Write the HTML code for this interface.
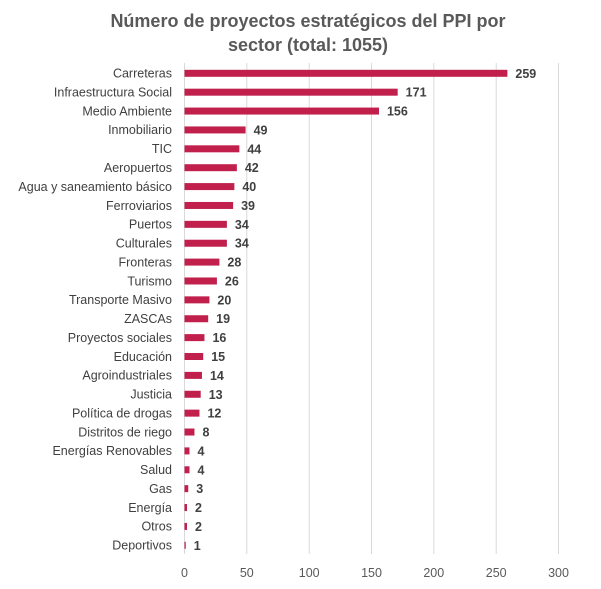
<!DOCTYPE html>
<html><head><meta charset="utf-8"><style>
body{margin:0;background:#fff;}
svg{display:block;font-family:"Liberation Sans",sans-serif;}
</style></head><body>
<svg width="601" height="589" viewBox="0 0 601 589" xmlns="http://www.w3.org/2000/svg">
<rect width="601" height="589" fill="#fff"/>
<text x="308" y="27" text-anchor="middle" font-size="18" font-weight="bold" fill="#595959">Número de proyectos estratégicos del PPI por</text>
<text x="308" y="51" text-anchor="middle" font-size="18" font-weight="bold" fill="#595959">sector (total: 1055)</text>
<g stroke="#d9d9d9" stroke-width="1">
<line x1="184.5" y1="63" x2="184.5" y2="554"/>
<line x1="246.8" y1="63" x2="246.8" y2="554"/>
<line x1="309.2" y1="63" x2="309.2" y2="554"/>
<line x1="371.5" y1="63" x2="371.5" y2="554"/>
<line x1="433.8" y1="63" x2="433.8" y2="554"/>
<line x1="496.2" y1="63" x2="496.2" y2="554"/>
<line x1="558.5" y1="63" x2="558.5" y2="554"/>
</g>
<g font-size="12.5" fill="#595959" text-anchor="middle">
<text x="184.5" y="577">0</text><text x="246.8" y="577">50</text><text x="309.2" y="577">100</text><text x="371.5" y="577">150</text><text x="433.8" y="577">200</text><text x="496.2" y="577">250</text><text x="558.5" y="577">300</text>
</g>
<g id="bars"></g>
</svg>
<script>
var d=[["Carreteras",259],["Infraestructura Social",171],["Medio Ambiente",156],["Inmobiliario",49],["TIC",44],["Aeropuertos",42],["Agua y saneamiento básico",40],["Ferroviarios",39],["Puertos",34],["Culturales",34],["Fronteras",28],["Turismo",26],["Transporte Masivo",20],["ZASCAs",19],["Proyectos sociales",16],["Educación",15],["Agroindustriales",14],["Justicia",13],["Política de drogas",12],["Distritos de riego",8],["Energías Renovables",4],["Salud",4],["Gas",3],["Energía",2],["Otros",2],["Deportivos",1]];
var g=document.getElementById("bars"),s="";
d.forEach(function(r,i){var y=73.3+i*18.88,w=r[1]*1.2467;
s+='<rect x="184.5" y="'+(y-3.5)+'" width="'+w+'" height="7" fill="#c0204b"/>';
s+='<text x="172" y="'+(y+4.3)+'" text-anchor="end" font-size="12.5" fill="#404040">'+r[0]+'</text>';
s+='<text x="'+(184.5+w+8)+'" y="'+(y+4.5)+'" font-size="12.5" font-weight="bold" fill="#404040">'+r[1]+'</text>';});
g.innerHTML=s;
</script>
</body></html>
